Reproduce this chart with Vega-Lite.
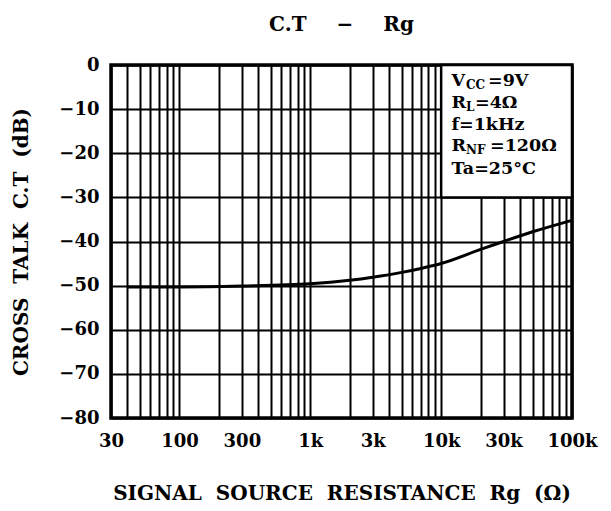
{
  "$schema": "https://vega.github.io/schema/vega-lite/v6.json",
  "autosize": {"type": "none"},
  "width": 461,
  "height": 353,
  "padding": {"left": 111, "top": 65, "right": 39, "bottom": 93},
  "background": "white",
  "title": {
    "text": "C.T\u2003\u2002−\u2003\u2002Rg",
    "font": "DejaVu Serif",
    "fontSize": 20,
    "fontWeight": "bold",
    "color": "black",
    "anchor": "middle",
    "frame": "group",
    "baseline": "alphabetic",
    "offset": 5
  },
  "config": {
    "view": {"stroke": "black", "strokeWidth": 3.5},
    "axis": {
      "labelFont": "DejaVu Serif",
      "labelFontWeight": "bold",
      "labelFontSize": 18,
      "labelColor": "black",
      "titleFont": "DejaVu Serif",
      "titleFontWeight": "bold",
      "titleFontSize": 20,
      "titleColor": "black",
      "gridColor": "black",
      "gridWidth": 2,
      "gridOpacity": 1,
      "ticks": false,
      "domain": false
    }
  },
  "datasets": {
    "curve": [
      {"rg": 40, "ct": -50.3},
      {"rg": 100, "ct": -50.3},
      {"rg": 300, "ct": -50.1},
      {"rg": 1000, "ct": -49.6},
      {"rg": 2000, "ct": -48.8},
      {"rg": 3000, "ct": -48.1},
      {"rg": 5000, "ct": -47.0},
      {"rg": 7000, "ct": -46.1},
      {"rg": 10000, "ct": -45.0},
      {"rg": 20000, "ct": -41.8},
      {"rg": 30000, "ct": -40.0},
      {"rg": 50000, "ct": -37.8},
      {"rg": 100000, "ct": -35.2}
    ],
    "box": [
      {"x1": 10000, "x2": 100000, "y1": -30, "y2": 0}
    ],
    "notes": [
      {"t": "V", "x": 12000, "y": -4.8, "kind": "main"},
      {"t": "CC", "x": 15490, "y": -4.8, "kind": "sub"},
      {"t": "=9V", "x": 22800, "y": -4.8, "kind": "main"},
      {"t": "R", "x": 12000, "y": -9.75, "kind": "main"},
      {"t": "L", "x": 15490, "y": -9.75, "kind": "sub"},
      {"t": "=4Ω", "x": 18140, "y": -9.75, "kind": "main"},
      {"t": "f=1kHz", "x": 12000, "y": -14.7, "kind": "main"},
      {"t": "R", "x": 12000, "y": -19.6, "kind": "main"},
      {"t": "NF", "x": 15490, "y": -19.6, "kind": "sub"},
      {"t": "=120Ω", "x": 23630, "y": -19.6, "kind": "main"},
      {"t": "Ta=25°C", "x": 12000, "y": -24.7, "kind": "main"}
    ]
  },
  "layer": [
    {
      "data": {"name": "curve"},
      "mark": {"type": "line", "color": "black", "strokeWidth": 3, "interpolate": "monotone"},
      "encoding": {
        "x": {
          "field": "rg",
          "type": "quantitative",
          "scale": {"type": "log", "domain": [30, 100000], "nice": false},
          "axis": {
            "title": "SIGNAL\u2007SOURCE\u2007RESISTANCE\u2007Rg\u2007(Ω)",
            "grid": true,
            "values": [30, 40, 50, 60, 70, 80, 90, 100, 200, 300, 400, 500, 600, 700, 800, 900, 1000, 2000, 3000, 4000, 5000, 6000, 7000, 8000, 9000, 10000, 20000, 30000, 40000, 50000, 60000, 70000, 80000, 90000, 100000],
            "labelExpr": "datum.value == 30 ? '30' : datum.value == 100 ? '100' : datum.value == 300 ? '300' : datum.value == 1000 ? '1k' : datum.value == 3000 ? '3k' : datum.value == 10000 ? '10k' : datum.value == 30000 ? '30k' : datum.value == 100000 ? '100k' : ''",
            "labelPadding": 14,
            "titlePadding": 33,
            "labelOverlap": false,
            "labelFlush": false
          }
        },
        "y": {
          "field": "ct",
          "type": "quantitative",
          "scale": {"domain": [-80, 0], "nice": false},
          "axis": {
            "title": "CROSS\u2007TALK\u2007C.T\u2007(dB)",
            "grid": true,
            "values": [-80, -75, -70, -65, -60, -55, -50, -45, -40, -35, -30, -25, -20, -15, -10, -5, 0],
            "labelExpr": "datum.value % 10 == 0 ? (datum.value < 0 ? '−' + abs(datum.value) : '0') : ''",
            "labelPadding": 12,
            "titlePadding": 27,
            "labelOverlap": false
          }
        }
      }
    },
    {
      "data": {"name": "box"},
      "mark": {"type": "rect", "fill": "white", "stroke": "black", "strokeWidth": 2.5},
      "encoding": {
        "x": {"field": "x1", "type": "quantitative"},
        "x2": {"field": "x2"},
        "y": {"field": "y1", "type": "quantitative"},
        "y2": {"field": "y2"}
      }
    },
    {
      "data": {"name": "notes"},
      "transform": [{"filter": "datum.kind == 'main'"}],
      "mark": {"type": "text", "align": "left", "baseline": "alphabetic", "font": "DejaVu Serif", "fontWeight": "bold", "fontSize": 17.5, "color": "black"},
      "encoding": {
        "x": {"field": "x", "type": "quantitative"},
        "y": {"field": "y", "type": "quantitative"},
        "text": {"field": "t"}
      }
    },
    {
      "data": {"name": "notes"},
      "transform": [{"filter": "datum.kind == 'sub'"}],
      "mark": {"type": "text", "align": "left", "baseline": "alphabetic", "dy": 2.5, "font": "DejaVu Serif", "fontWeight": "bold", "fontSize": 12, "color": "black"},
      "encoding": {
        "x": {"field": "x", "type": "quantitative"},
        "y": {"field": "y", "type": "quantitative"},
        "text": {"field": "t"}
      }
    }
  ]
}
